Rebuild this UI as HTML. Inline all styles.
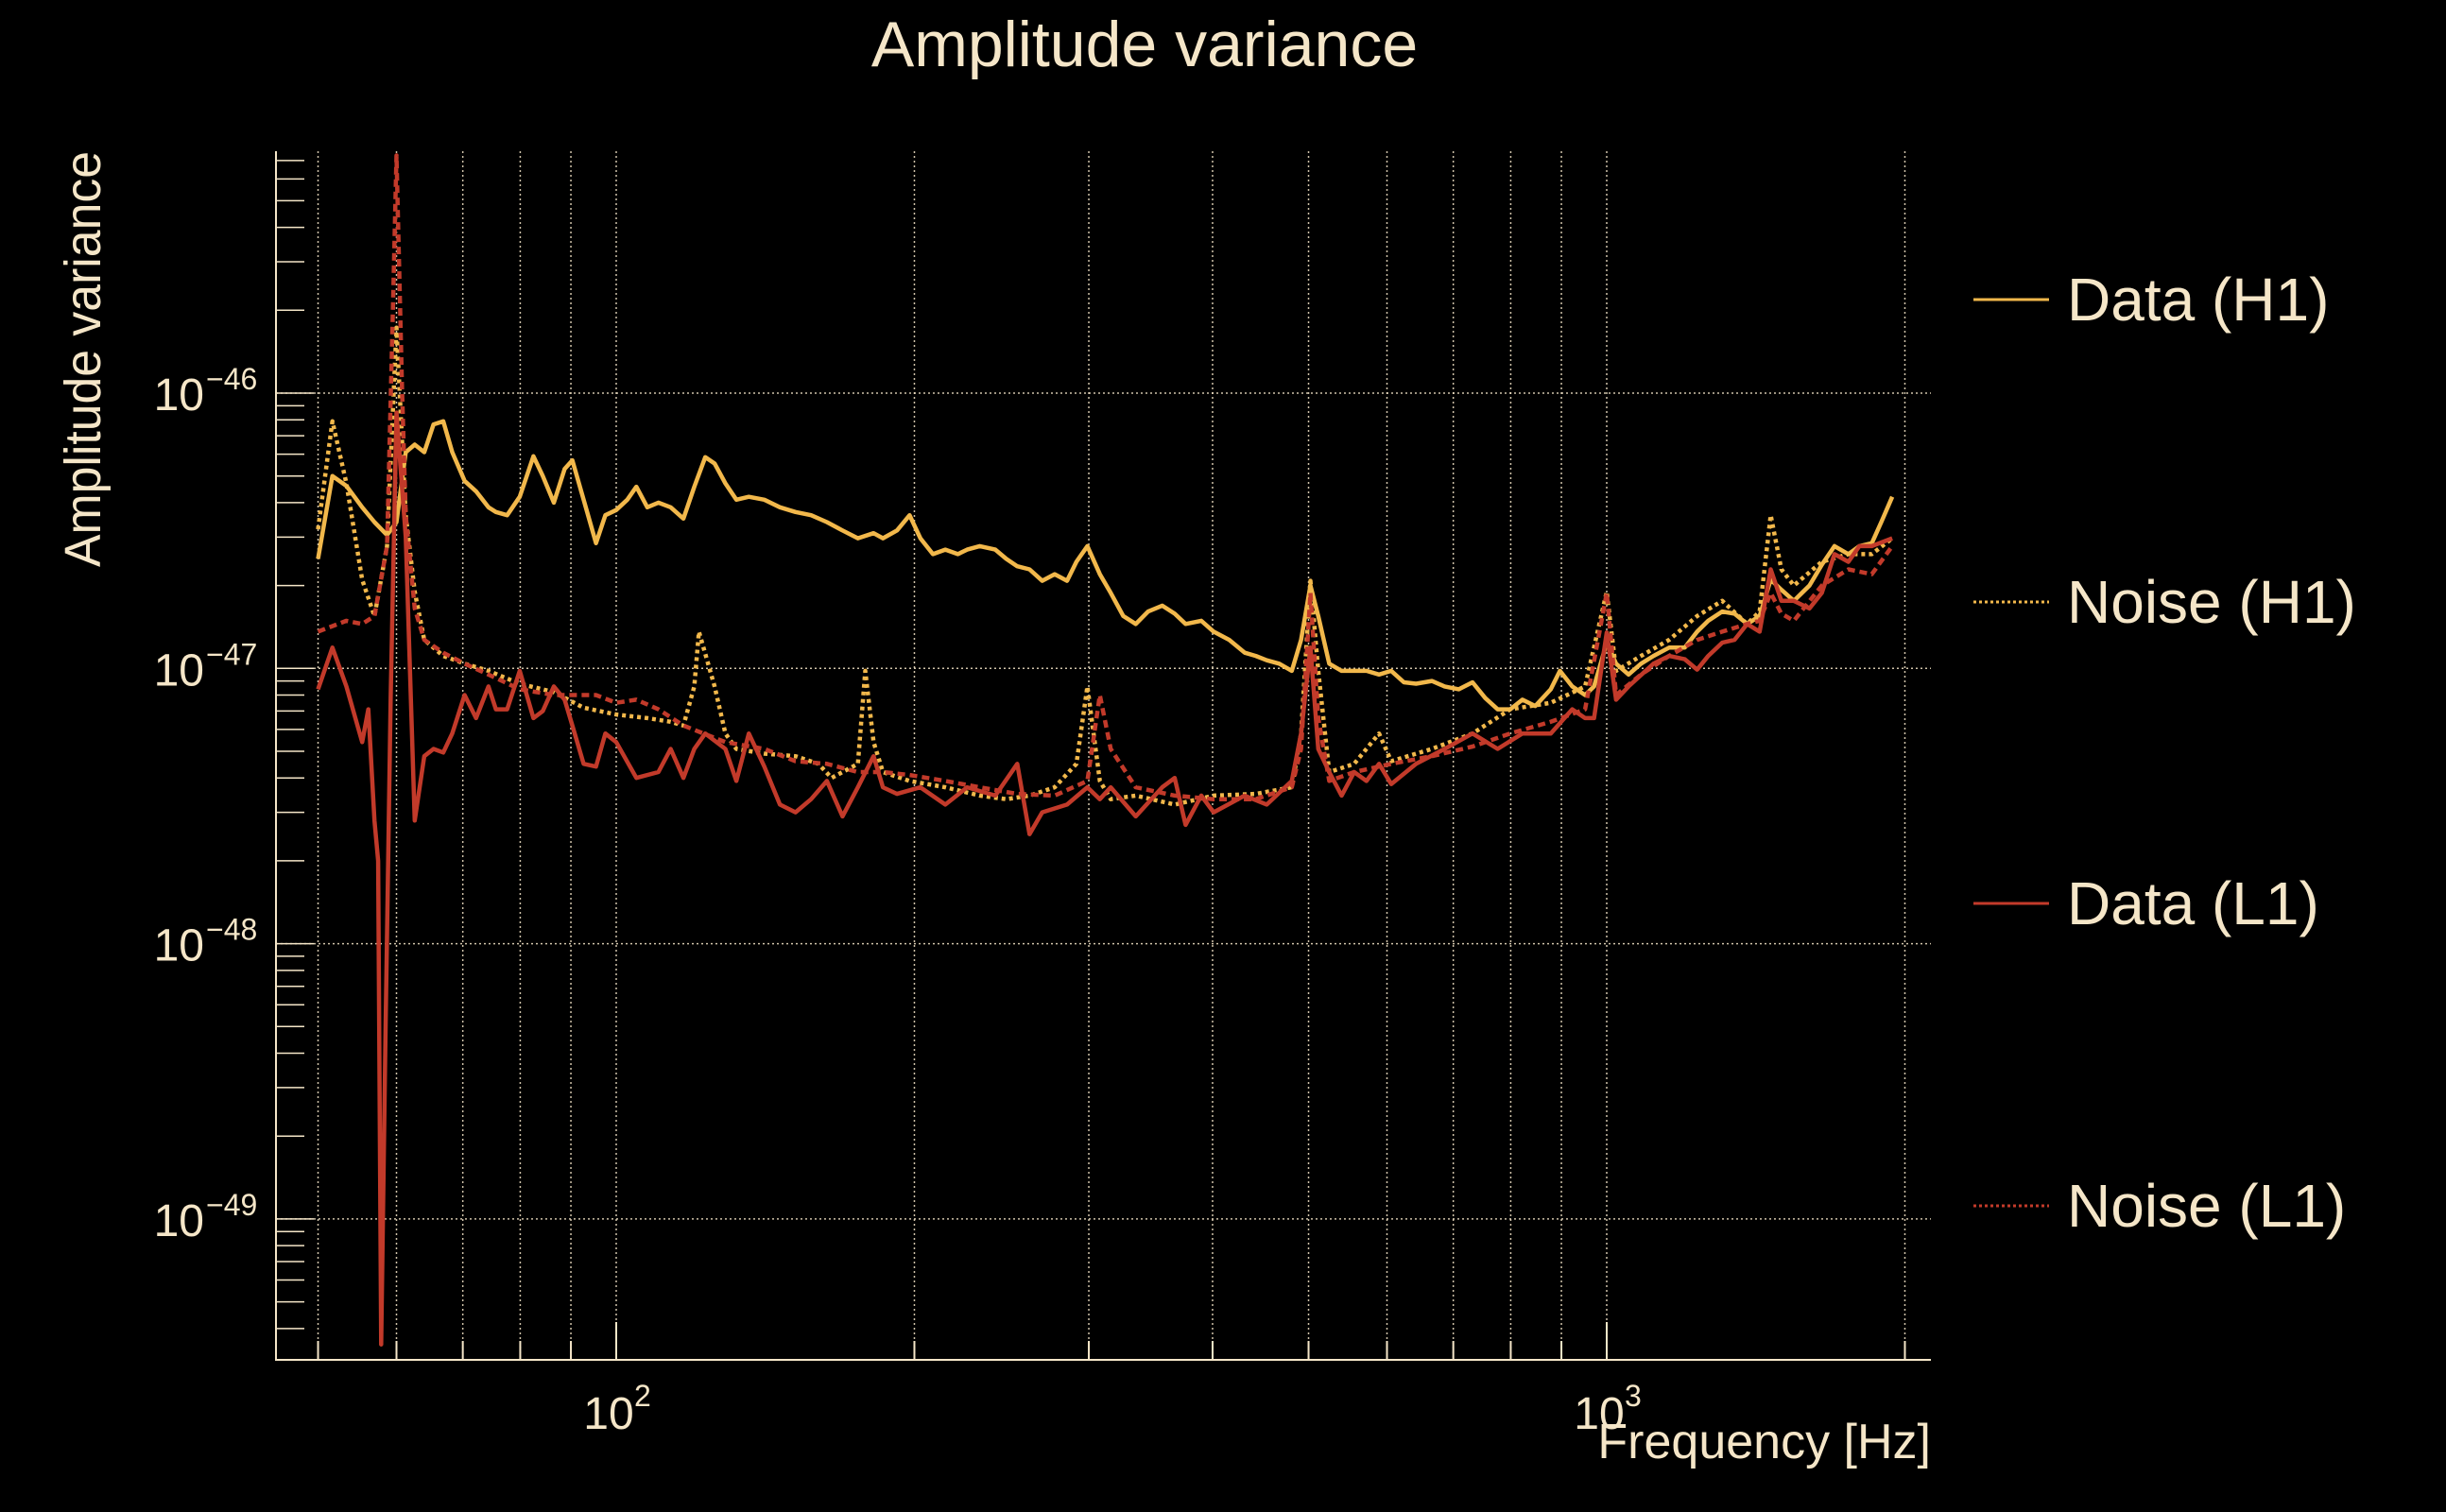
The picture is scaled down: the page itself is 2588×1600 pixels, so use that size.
<!DOCTYPE html>
<html><head><meta charset="utf-8"><style>
html,body{margin:0;padding:0;background:#000;}
svg{display:block;font-family:"Liberation Sans",sans-serif;}
</style></head><body>
<svg id="chart" width="2588" height="1600" viewBox="0 0 2588 1600" xmlns="http://www.w3.org/2000/svg">
<rect width="2588" height="1600" fill="#000"/>
<text x="1211" y="70" font-size="68" fill="#f5e6c8" text-anchor="middle">Amplitude variance</text>
<text transform="translate(106,380) rotate(-90)" font-size="54" fill="#f5e6c8" text-anchor="middle" textLength="440" lengthAdjust="spacingAndGlyphs">Amplitude variance</text>
<text x="2043" y="1543" font-size="52" fill="#f5e6c8" text-anchor="end">Frequency [Hz]</text>
<g id="grid"></g>
<g id="axes"></g>
<g id="series"></g>
<g id="legend"></g>
</svg>
<script>
const fH1d=[50,51.7,53.4,55.4,57,58.7,60,61.3,62.6,64,65.4,66.9,68.3,70.3,72.2,74.3,75.6,77.6,79.9,82.5,84.3,86.5,88.7,90.3,92.7,95.4,97.5,100,102.6,104.8,107.5,110.3,113.5,116.9,119.9,123,125.7,128.9,132.2,136.1,141.1,146.3,151.7,157.3,163.2,169.2,175.4,181.9,185.9,192.1,197.8,202.8,208.8,214.9,221.3,226.1,232.8,241.4,247.6,254,261.4,269.2,277.1,285.2,291.5,299,307.8,315.7,325,334.6,344.4,355.8,366.3,375.7,389.6,401,415.8,431.1,442.3,453.7,467.1,480.9,491.4,502.2,511.4,524.6,540,556,572,589,606,624,642,666,686,709,732,754,776,799,822,847,878,897,923,951,971,1000,1022,1052,1083,1115,1156,1199,1234,1266,1308,1346,1386,1427,1464,1501,1545,1602,1649,1698,1754,1799,1852,1893,1942];
const vH1d=[2.5e-47,5.0e-47,4.6e-47,3.85e-47,3.4e-47,3.05e-47,3.4e-47,6.1e-47,6.5e-47,6.1e-47,7.7e-47,7.9e-47,6.1e-47,4.8e-47,4.4e-47,3.85e-47,3.7e-47,3.6e-47,4.2e-47,5.9e-47,5.0e-47,4.0e-47,5.3e-47,5.7e-47,4.1e-47,2.85e-47,3.6e-47,3.76e-47,4.1e-47,4.57e-47,3.85e-47,4.0e-47,3.85e-47,3.5e-47,4.57e-47,5.85e-47,5.55e-47,4.7e-47,4.1e-47,4.2e-47,4.1e-47,3.85e-47,3.7e-47,3.6e-47,3.4e-47,3.17e-47,2.97e-47,3.1e-47,2.97e-47,3.17e-47,3.6e-47,2.97e-47,2.6e-47,2.7e-47,2.6e-47,2.7e-47,2.78e-47,2.7e-47,2.5e-47,2.35e-47,2.29e-47,2.08e-47,2.2e-47,2.08e-47,2.44e-47,2.78e-47,2.2e-47,1.88e-47,1.55e-47,1.45e-47,1.61e-47,1.69e-47,1.58e-47,1.45e-47,1.49e-47,1.36e-47,1.27e-47,1.14e-47,1.11e-47,1.07e-47,1.04e-47,0.98e-47,1.27e-47,2.0e-47,1.55e-47,1.04e-47,0.98e-47,0.98e-47,0.98e-47,0.95e-47,0.98e-47,0.89e-47,0.88e-47,0.90e-47,0.86e-47,0.84e-47,0.89e-47,0.78e-47,0.71e-47,0.71e-47,0.77e-47,0.73e-47,0.84e-47,0.98e-47,0.86e-47,0.80e-47,0.86e-47,1.24e-47,1.04e-47,0.95e-47,1.04e-47,1.11e-47,1.19e-47,1.19e-47,1.36e-47,1.49e-47,1.61e-47,1.58e-47,1.45e-47,1.55e-47,2.1e-47,1.93e-47,1.76e-47,2.0e-47,2.38e-47,2.78e-47,2.6e-47,2.78e-47,2.85e-47,3.4e-47,4.2e-47];
const fH1n=[50,51.7,53.4,55.4,57,58.7,60,61.3,62.6,64,66.9,70.3,74.3,79.9,86.5,92.7,100,107.5,113.5,116.9,119.9,121.2,125.7,128.9,132.2,141.1,151.7,160,165,169.2,175.4,178.4,181.9,185.9,197.8,214.9,232.8,247.6,261.4,277.1,291.5,299,307.8,315.7,334.6,366.3,401,442.3,480.9,491.4,502.2,511.4,524.6,556,589,606,666,732,799,878,951,1000,1022,1083,1156,1234,1308,1386,1427,1464,1501,1545,1649,1754,1852,1942];
const vH1n=[3.2e-47,7.9e-47,4.7e-47,2.1e-47,1.55e-47,2.78e-47,17.3e-47,3.6e-47,1.9e-47,1.27e-47,1.11e-47,1.04e-47,0.98e-47,0.88e-47,0.82e-47,0.72e-47,0.68e-47,0.66e-47,0.64e-47,0.62e-47,0.86e-47,1.36e-47,0.86e-47,0.58e-47,0.51e-47,0.49e-47,0.48e-47,0.45e-47,0.40e-47,0.42e-47,0.45e-47,0.98e-47,0.54e-47,0.42e-47,0.39e-47,0.37e-47,0.345e-47,0.335e-47,0.345e-47,0.37e-47,0.45e-47,0.86e-47,0.39e-47,0.335e-47,0.345e-47,0.32e-47,0.345e-47,0.35e-47,0.37e-47,0.58e-47,2.08e-47,0.98e-47,0.42e-47,0.45e-47,0.58e-47,0.46e-47,0.51e-47,0.58e-47,0.71e-47,0.75e-47,0.86e-47,1.9e-47,0.98e-47,1.11e-47,1.27e-47,1.55e-47,1.76e-47,1.45e-47,1.61e-47,3.6e-47,2.29e-47,2.0e-47,2.44e-47,2.6e-47,2.6e-47,2.97e-47];
const fL1d=[50,51.7,53.4,55.4,56.2,57,57.5,57.9,58.5,59.2,60,61.3,62.6,64,65.4,66.9,68.3,70.3,72.2,74.3,75.6,77.6,79.9,82.5,84.3,86.5,88.7,90.3,92.7,95.4,97.5,100,104.8,110.3,113.5,116.9,119.9,123,128.9,132.2,136.1,141.1,146.3,151.7,157.3,163.2,169.2,175.4,181.9,185.9,192.1,202.8,214.9,226.1,241.4,254,261.4,269.2,285.2,299,307.8,315.7,334.6,355.8,366.3,375.7,389.6,401,431,453.7,480.9,491.4,502.2,511.4,524.6,540,556,572,589,606,642,686,732,776,822,878,923,951,971,1000,1022,1052,1115,1156,1199,1234,1266,1308,1346,1386,1427,1464,1501,1545,1602,1649,1698,1754,1799,1852,1942];
const vL1d=[0.84e-47,1.19e-47,0.86e-47,0.54e-47,0.71e-47,0.28e-47,0.2e-47,0.0035e-47,0.05e-47,0.8e-47,8.5e-47,3.0e-47,0.28e-47,0.48e-47,0.51e-47,0.495e-47,0.58e-47,0.8e-47,0.66e-47,0.86e-47,0.71e-47,0.71e-47,0.98e-47,0.66e-47,0.7e-47,0.86e-47,0.77e-47,0.62e-47,0.45e-47,0.44e-47,0.58e-47,0.54e-47,0.40e-47,0.42e-47,0.51e-47,0.40e-47,0.51e-47,0.58e-47,0.51e-47,0.39e-47,0.58e-47,0.44e-47,0.32e-47,0.30e-47,0.335e-47,0.39e-47,0.29e-47,0.37e-47,0.48e-47,0.37e-47,0.35e-47,0.37e-47,0.32e-47,0.37e-47,0.345e-47,0.45e-47,0.25e-47,0.30e-47,0.32e-47,0.37e-47,0.335e-47,0.37e-47,0.29e-47,0.37e-47,0.4e-47,0.27e-47,0.345e-47,0.30e-47,0.345e-47,0.32e-47,0.39e-47,0.58e-47,1.19e-47,0.51e-47,0.42e-47,0.345e-47,0.42e-47,0.39e-47,0.45e-47,0.38e-47,0.45e-47,0.51e-47,0.58e-47,0.51e-47,0.58e-47,0.58e-47,0.71e-47,0.66e-47,0.66e-47,1.35e-47,0.77e-47,0.86e-47,1.04e-47,1.11e-47,1.08e-47,0.99e-47,1.11e-47,1.24e-47,1.27e-47,1.45e-47,1.36e-47,2.29e-47,1.76e-47,1.76e-47,1.65e-47,1.88e-47,2.6e-47,2.44e-47,2.78e-47,2.78e-47,2.97e-47];
const fL1n=[50,53.4,55.4,57,58.7,59.5,60,60.8,61.3,62.6,64,66.9,70.3,74.3,79.9,86.5,90.3,95.4,100,104.8,110.3,116.9,128.9,141.1,151.7,163.2,175.4,185.9,197.8,214.9,232.8,254,277.1,299,307.8,315.7,334.6,366.3,401,442,480.9,491.4,502.2,511.4,524.6,556,606,666,732,799,878,951,1000,1022,1083,1156,1234,1308,1386,1427,1464,1501,1545,1649,1754,1852,1942];
const vL1n=[1.36e-47,1.49e-47,1.45e-47,1.55e-47,2.78e-47,20e-47,73e-47,10e-47,3.6e-47,1.65e-47,1.27e-47,1.14e-47,1.04e-47,0.95e-47,0.84e-47,0.80e-47,0.8e-47,0.8e-47,0.75e-47,0.77e-47,0.71e-47,0.62e-47,0.54e-47,0.51e-47,0.46e-47,0.45e-47,0.42e-47,0.42e-47,0.41e-47,0.39e-47,0.37e-47,0.35e-47,0.345e-47,0.39e-47,0.8e-47,0.51e-47,0.37e-47,0.345e-47,0.335e-47,0.335e-47,0.37e-47,0.51e-47,1.88e-47,0.66e-47,0.39e-47,0.42e-47,0.45e-47,0.48e-47,0.52e-47,0.58e-47,0.64e-47,0.71e-47,1.88e-47,0.8e-47,0.95e-47,1.11e-47,1.27e-47,1.36e-47,1.45e-47,1.49e-47,1.88e-47,1.58e-47,1.49e-47,2.0e-47,2.29e-47,2.2e-47,2.78e-47];
const yDecades=[-46,-47,-48,-49];
const xGridFreqs=[50,60,70,80,90,100,200,300,400,500,600,700,800,900,1000,2000];
const legendLabels=["Data (H1)","Noise (H1)","Data (L1)","Noise (L1)"];

const NS="http://www.w3.org/2000/svg";
const L=292,R=2043,T=160,B=1439;
const xs=f=>652+(Math.log10(f)-2)*1048;
const ys=v=>416-(Math.log10(v)+46)*291.3;
const CREAM="#f5e6c8",OR="#f2b84b",RD="#c23a2a";
function mk(tag,attrs,parent){const e=document.createElementNS(NS,tag);for(const k in attrs)e.setAttribute(k,attrs[k]);parent.appendChild(e);return e;}
const grid=document.getElementById('grid'),axes=document.getElementById('axes'),ser=document.getElementById('series'),leg=document.getElementById('legend');
xGridFreqs.forEach(f=>{const x=xs(f);
 const g=mk('line',{x1:x,x2:x,y1:T,y2:B,stroke:CREAM,'stroke-width':1.5,'stroke-dasharray':'2 3',opacity:0.85},grid);
 
 
 const t=mk('line',{x1:x,x2:x,y1:B,y2:B-(f===100||f===1000?40:20),stroke:CREAM,'stroke-width':2},axes);
 
 
});
yDecades.forEach(k=>{const y=ys(Math.pow(10,k));
 const g=mk('line',{x1:L,x2:R,y1:y,y2:y,stroke:CREAM,'stroke-width':1.5,'stroke-dasharray':'2 3',opacity:0.85},grid);
 
 
 const t=mk('text',{x:216,y:y+18,'font-size':48,fill:CREAM,'text-anchor':'end'},axes);
 
 
 t.textContent='10';
 const s=mk('text',{x:218,y:y-4,'font-size':32,fill:CREAM},axes);
 
 
 s.textContent='\u2212'+(-k);
});
for(let k=-50;k<=-45;k++){for(let m=1;m<=9;m++){const y=ys(m*Math.pow(10,k));if(y<T||y>B)continue;
 const t=mk('line',{x1:L,x2:L+(m===1?40:30),y1:y,y2:y,stroke:CREAM,'stroke-width':1.5},axes);
 
 
}}
const ax=mk('path',{d:`M${L},${T} L${L},${B} L${R},${B}`,fill:'none',stroke:CREAM,'stroke-width':2},axes);


[[100,'2'],[1000,'3']].forEach(([f,e])=>{const x=xs(f);
 const t=mk('text',{x:x-8,y:1512,'font-size':48,fill:CREAM,'text-anchor':'middle'},axes);
 
 
 t.textContent='10';
 const s=mk('text',{x:x+19,y:1488,'font-size':32,fill:CREAM},axes);
 
 
 s.textContent=e;
});
const series=[[fH1d,vH1d,OR,null,'series-data-h1'],[fH1n,vH1n,OR,'4 4','series-noise-h1'],[fL1d,vL1d,RD,null,'series-data-l1'],[fL1n,vL1n,RD,'8 5','series-noise-l1']];
series.forEach(([f,v,c,d,n])=>{
 const pts=f.map((q,i)=>xs(q).toFixed(1)+','+ys(v[i]).toFixed(1)).join(' ');
 const a={points:pts,fill:'none',stroke:c,'stroke-width':4.5,'stroke-linejoin':'round'};if(d)a['stroke-dasharray']=d;
 const p=mk('polyline',a,ser);
 
 
});
const legY=[317,637,956,1276];
legendLabels.forEach((lab,i)=>{const s=series[i];const y=legY[i];
 const a={x1:2088,x2:2168,y1:y,y2:y,stroke:s[2],'stroke-width':3};if(s[3])a['stroke-dasharray']='3 3';
 const l=mk('line',a,leg);
 
 
 const t=mk('text',{x:2187,y:y+22,'font-size':64,fill:CREAM},leg);
 
 
 t.textContent=lab;
});
</script>
</body></html>
